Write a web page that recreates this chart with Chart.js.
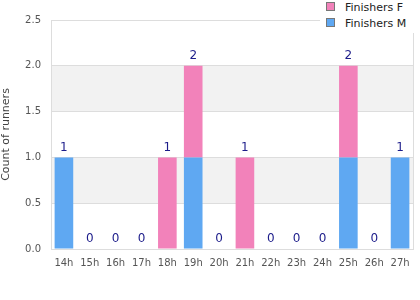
<!DOCTYPE html>
<html>
<head>
<meta charset="utf-8">
<script src="https://cdn.jsdelivr.net/npm/chart.js@4/dist/chart.umd.min.js"></script>
<style>
  body { margin: 0; background: #fff; }
  #wrap { position: relative; width: 420px; height: 300px; }
  #legend {
    position: absolute; left: 320px; top: 0; width: 100px; height: 33px;
    background: #fff; font: 11px "DejaVu Sans", sans-serif; color: #222;
  }
  #legend div { position: absolute; left: 6px; height: 14px; line-height: 14px; }
  #legend span.box {
    display: inline-block; width: 7px; height: 7px; border: 1px solid #777;
    margin-right: 10px; vertical-align: 0px;
  }
</style>
</head>
<body>
<div id="wrap">
  <canvas id="c" width="420" height="300"></canvas>
  <div id="legend"></div>
</div>
<script>
const hours = ['14h', '15h', '16h', '17h', '18h', '19h', '20h', '21h', '22h', '23h', '24h', '25h', '26h', '27h'];
const finishersM = [1, 0, 0, 0, 0, 1, 0, 0, 0, 0, 0, 1, 0, 1];
const finishersF = [0, 0, 0, 0, 1, 1, 0, 1, 0, 0, 0, 1, 0, 0];
const colorM = '#5FA8F2';
const colorF = '#F282BA';

const legendItems = [
    { label: 'Finishers F', color: colorF },
    { label: 'Finishers M', color: colorM }
];
const legendEl = document.getElementById('legend');
legendItems.forEach((it, i) => {
    const row = document.createElement('div');
    row.style.top = (1 + i * 16) + 'px';
    row.innerHTML = `<span class="box" style="background:${it.color}"></span>${it.label}`;
    legendEl.appendChild(row);
});

// alternating grey bands + right border
const bands = {
    id: 'bands',
    beforeDraw(chart) {
        const { ctx, chartArea: a, scales: { y } } = chart;
        ctx.save();
        ctx.fillStyle = '#f2f2f2';
        for (let v = 0.5; v < 2.5; v += 1) {
            const top = y.getPixelForValue(v + 0.5);
            const bot = y.getPixelForValue(v);
            ctx.fillRect(a.left, top, a.right - a.left, bot - top);
        }
        ctx.restore();
    },
    afterDraw(chart) {
        const { ctx, chartArea: a } = chart;
        ctx.save();
        ctx.strokeStyle = '#dddddd';
        ctx.lineWidth = 1;
        ctx.beginPath();
        ctx.moveTo(Math.round(a.right) + 0.5, a.top);
        ctx.lineTo(Math.round(a.right) + 0.5, a.bottom);
        ctx.stroke();
        ctx.restore();
    }
};

// totals above each stack
const totals = {
    id: 'totals',
    afterDatasetsDraw(chart) {
        const { ctx, scales: { x, y } } = chart;
        ctx.save();
        ctx.fillStyle = '#1c1c8a';
        ctx.font = '12px "DejaVu Sans", sans-serif';
        ctx.textAlign = 'center';
        ctx.textBaseline = 'middle';
        hours.forEach((h, i) => {
            const t = finishersM[i] + finishersF[i];
            ctx.fillText(String(t), x.getPixelForValue(i), y.getPixelForValue(t) - 10);
        });
        ctx.restore();
    }
};

new Chart(document.getElementById('c'), {
    type: 'bar',
    data: {
        labels: hours,
        datasets: [
            { label: 'Finishers M', data: finishersM, backgroundColor: colorM },
            { label: 'Finishers F', data: finishersF, backgroundColor: colorF }
        ]
    },
    options: {
        responsive: false,
        animation: false,
        layout: { padding: { top: 20, right: 7, bottom: 0, left: 0 } },
        plugins: {
            legend: { display: false },
            tooltip: { enabled: false }
        },
        scales: {
            x: {
                stacked: true,
                grid: { display: false, drawTicks: false },
                border: { color: '#dddddd' },
                ticks: { color: '#555', font: { family: 'DejaVu Sans', size: 10 }, padding: 8, maxRotation: 0 },
                afterFit(s) { s.height = 51; }
            },
            y: {
                stacked: true,
                min: 0,
                max: 2.5,
                grid: { color: '#dddddd', drawTicks: false },
                border: { color: '#dddddd' },
                ticks: {
                    stepSize: 0.5, color: '#555', padding: 10,
                    font: { family: 'DejaVu Sans', size: 10 },
                    callback: v => v.toFixed(1)
                },
                title: {
                    display: true, text: 'Count of runners', color: '#444',
                    font: { family: 'DejaVu Sans', size: 11 }, padding: 0
                },
                afterFit(s) { s.width = 51; }
            }
        }
    },
    plugins: [bands, totals]
});
</script>
</body>
</html>
